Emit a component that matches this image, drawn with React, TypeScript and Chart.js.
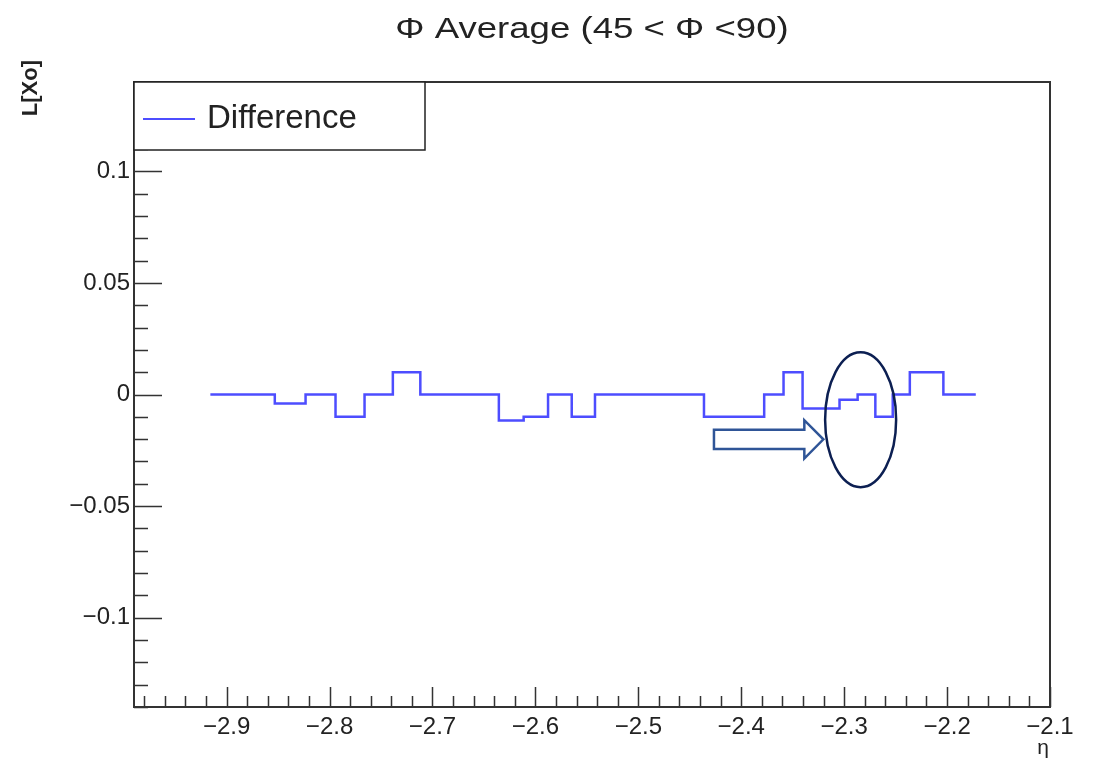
import React, { useEffect, useRef } from 'react';
import { Chart, registerables } from 'chart.js';

Chart.register(...registerables);

// ---- Data ----
const BIN_EDGES = [
  -2.9158, -2.884, -2.8532, -2.8233, -2.7942, -2.766, -2.7385, -2.7118, -2.6857,
  -2.6603, -2.6355, -2.6114, -2.5877, -2.5647, -2.5421, -2.52, -2.4984, -2.4773,
  -2.4565, -2.4362, -2.4163, -2.3968, -2.3777, -2.3589, -2.3404, -2.3223, -2.3045,
  -2.2869, -2.2697, -2.2528, -2.2362, -2.2198, -2.2036, -2.1878, -2.1721,
];
const DIFFERENCE = [
  0, 0, -0.004, 0, -0.01, 0, 0.01, 0, 0, 0, -0.0116, -0.01, 0, -0.01, 0, 0, 0,
  0, 0, -0.01, -0.01, -0.01, 0, 0.01, -0.0063, -0.0063, -0.0023, 0, -0.01, 0,
  0.01, 0.01, 0, 0,
];
const X_TICKS = [-2.9, -2.8, -2.7, -2.6, -2.5, -2.4, -2.3, -2.2, -2.1];
const X_TICK_LABELS = ['\u22122.9', '\u22122.8', '\u22122.7', '\u22122.6', '\u22122.5', '\u22122.4', '\u22122.3', '\u22122.2', '\u22122.1'];
const Y_TICKS = [-0.1, -0.05, 0, 0.05, 0.1];
const Y_TICK_LABELS = ['\u22120.1', '\u22120.05', '0', '0.05', '0.1'];
const X_MIN = -2.99;
const X_MAX = -2.1;
const Y_MIN = -0.14;
const Y_MAX = 0.14;
const TITLE = '\u03A6 Average (45 < \u03A6 <90)';
const X_TITLE = '\u03B7';
const Y_TITLE = 'L[Xo]';
const SERIES_LABEL = 'Difference';

// Annotation (hand-drawn highlight) in data units
const ELLIPSE = { cx: -2.284, cy: -0.0113, rx: 0.0345, ry: 0.0302 };
const ARROW = { x0: -2.4265, xHead: -2.3387, xTip: -2.3202, y: -0.0201, body: 0.0043, head: 0.0086 };

const FONT = '"Liberation Sans", Arial, Helvetica, sans-serif';
const LINE_COLOR = '#4d4dff';

const decorPlugin = {
  id: 'rootDecor',
  afterDraw(chart: any) {
    const { ctx, chartArea } = chart;
    const xs = chart.scales.x;
    const ys = chart.scales.y;
    const { left, right, top, bottom } = chartArea;
    ctx.save();

    // ticks (ROOT style, inward)
    ctx.strokeStyle = '#333';
    ctx.lineWidth = 1.5;
    ctx.beginPath();
    for (let k = -14; k <= 14; k++) {
      const v = k / 100;
      const py = Math.round(ys.getPixelForValue(v)) + 0.5;
      const len = k % 5 === 0 ? 28 : 14;
      ctx.moveTo(left, py);
      ctx.lineTo(left + len, py);
    }
    for (let k = -149; k <= -105; k++) {
      const v = k / 50;
      const px = Math.round(xs.getPixelForValue(v)) + 0.5;
      const len = k % 5 === 0 ? 20 : 11;
      ctx.moveTo(px, bottom);
      ctx.lineTo(px, bottom - len);
    }
    ctx.stroke();

    // frame
    ctx.strokeStyle = '#333';
    ctx.lineWidth = 2;
    ctx.strokeRect(left, top, right - left, bottom - top);

    // legend
    const lw = 291;
    const lh = 68;
    ctx.fillStyle = '#fff';
    ctx.fillRect(left, top, lw, lh);
    ctx.strokeStyle = '#222';
    ctx.lineWidth = 1.5;
    ctx.strokeRect(left, top, lw, lh);
    ctx.strokeStyle = LINE_COLOR;
    ctx.lineWidth = 2;
    ctx.beginPath();
    ctx.moveTo(left + 9, top + 37);
    ctx.lineTo(left + 61, top + 37);
    ctx.stroke();
    ctx.fillStyle = '#222';
    ctx.font = `33px ${FONT}`;
    ctx.textAlign = 'left';
    ctx.textBaseline = 'middle';
    ctx.fillText(SERIES_LABEL, left + 73, top + 37);

    // title (stretched horizontally like the reference)
    ctx.save();
    ctx.translate((left + right) / 2, 30);
    ctx.scale(1.22, 1);
    ctx.font = `30px ${FONT}`;
    ctx.textAlign = 'center';
    ctx.textBaseline = 'middle';
    ctx.fillStyle = '#222';
    ctx.fillText(TITLE, 0, 0);
    ctx.restore();

    // y title
    ctx.save();
    ctx.translate(31, top - 22);
    ctx.rotate(-Math.PI / 2);
    ctx.font = `bold 22px ${FONT}`;
    ctx.textAlign = 'right';
    ctx.textBaseline = 'middle';
    ctx.fillStyle = '#222';
    ctx.fillText(Y_TITLE, 0, 0);
    ctx.restore();

    // x title
    ctx.font = `21px ${FONT}`;
    ctx.textAlign = 'right';
    ctx.textBaseline = 'middle';
    ctx.fillStyle = '#222';
    ctx.fillText(X_TITLE, right - 1, 748);

    // highlight arrow
    const ax0 = xs.getPixelForValue(ARROW.x0);
    const axh = xs.getPixelForValue(ARROW.xHead);
    const axt = xs.getPixelForValue(ARROW.xTip);
    const ay = ys.getPixelForValue(ARROW.y);
    const ab = ys.getPixelForValue(ARROW.y - ARROW.body) - ay;
    const ah = ys.getPixelForValue(ARROW.y - ARROW.head) - ay;
    ctx.strokeStyle = '#2f5597';
    ctx.lineWidth = 2.5;
    ctx.lineJoin = 'miter';
    ctx.beginPath();
    ctx.moveTo(ax0, ay - ab);
    ctx.lineTo(axh, ay - ab);
    ctx.lineTo(axh, ay - ah);
    ctx.lineTo(axt, ay);
    ctx.lineTo(axh, ay + ah);
    ctx.lineTo(axh, ay + ab);
    ctx.lineTo(ax0, ay + ab);
    ctx.closePath();
    ctx.stroke();

    // highlight ellipse
    const ecx = xs.getPixelForValue(ELLIPSE.cx);
    const ecy = ys.getPixelForValue(ELLIPSE.cy);
    const erx = xs.getPixelForValue(ELLIPSE.cx + ELLIPSE.rx) - ecx;
    const ery = ecy - ys.getPixelForValue(ELLIPSE.cy + ELLIPSE.ry);
    ctx.strokeStyle = '#0c1f52';
    ctx.lineWidth = 2.5;
    ctx.beginPath();
    ctx.ellipse(ecx, ecy, erx, ery, 0, 0, Math.PI * 2);
    ctx.stroke();

    ctx.restore();
  },
};

export default function App() {
  const canvasRef = useRef<HTMLCanvasElement | null>(null);

  useEffect(() => {
    if (!canvasRef.current) return;
    const points = BIN_EDGES.map((x, i) => ({
      x,
      y: DIFFERENCE[Math.min(i, DIFFERENCE.length - 1)],
    }));
    const chart = new Chart(canvasRef.current, {
      type: 'line',
      data: {
        datasets: [
          {
            label: SERIES_LABEL,
            data: points,
            stepped: true,
            borderColor: LINE_COLOR,
            borderWidth: 2.5,
            pointRadius: 0,
            fill: false,
            tension: 0,
          },
        ],
      },
      plugins: [decorPlugin],
      options: {
        responsive: false,
        animation: false,
        devicePixelRatio: 1,
        layout: { padding: { top: 82, right: 44, left: 0, bottom: 0 } },
        plugins: {
          legend: { display: false },
          title: { display: false },
          tooltip: { enabled: false },
        },
        scales: {
          x: {
            type: 'linear',
            min: X_MIN,
            max: X_MAX,
            grid: { display: false, drawTicks: false },
            border: { display: false },
            afterFit: (s: any) => {
              s.height = 54;
            },
            afterBuildTicks: (s: any) => {
              s.ticks = X_TICKS.map((value) => ({ value }));
            },
            ticks: {
              autoSkip: false,
              maxRotation: 0,
              padding: 6,
              color: '#222',
              font: { family: FONT, size: 24 },
              callback: (v: any) => {
                const i = X_TICKS.findIndex((t) => Math.abs(t - Number(v)) < 1e-9);
                return i >= 0 ? X_TICK_LABELS[i] : '';
              },
            },
          },
          y: {
            type: 'linear',
            min: Y_MIN,
            max: Y_MAX,
            grid: { display: false, drawTicks: false },
            border: { display: false },
            afterFit: (s: any) => {
              s.width = 134;
            },
            afterBuildTicks: (s: any) => {
              s.ticks = Y_TICKS.map((value) => ({ value }));
            },
            ticks: {
              autoSkip: false,
              padding: 4,
              color: '#222',
              font: { family: FONT, size: 24 },
              callback: (v: any) => {
                const i = Y_TICKS.findIndex((t) => Math.abs(t - Number(v)) < 1e-9);
                return i >= 0 ? Y_TICK_LABELS[i] : '';
              },
            },
          },
        },
      },
    } as any);
    return () => chart.destroy();
  }, []);

  return (
    <div style={{ position: 'fixed', left: 0, top: 0, width: 1094, height: 761, background: '#fff' }}>
      <canvas ref={canvasRef} width={1094} height={761} style={{ width: 1094, height: 761, display: 'block' }} />
    </div>
  );
}
